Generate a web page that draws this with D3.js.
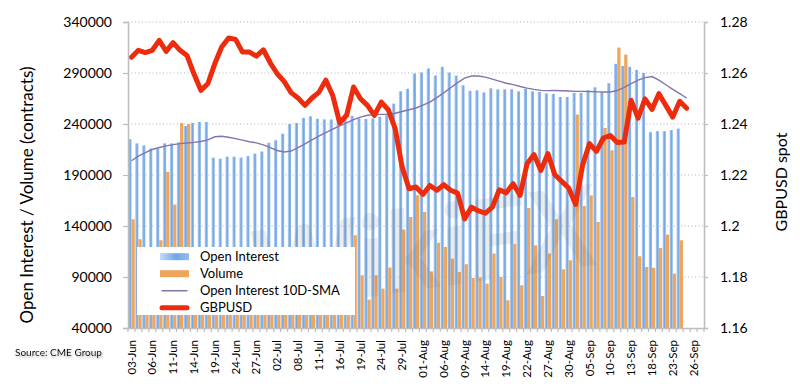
<!DOCTYPE html>
<html>
<head>
<meta charset="utf-8">
<script src="https://cdn.jsdelivr.net/npm/d3@7"></script>
<style>
  body { margin: 0; background: #fff; }
  svg text { font-family: Lato, "Open Sans", sans-serif; }
</style>
</head>
<body>
<div id="chart"></div>
<script>
const canvas = { w: 800, h: 387 };
const plot = { left: 128, right: 704, top: 22, bottom: 328 };

// trading days, 03-Jun .. 27-Sep
const dates = [
  "03-Jun","04-Jun","05-Jun","06-Jun","07-Jun","10-Jun","11-Jun","12-Jun","13-Jun","14-Jun",
  "17-Jun","18-Jun","19-Jun","20-Jun","21-Jun","24-Jun","25-Jun","26-Jun","27-Jun","28-Jun",
  "01-Jul","02-Jul","03-Jul","05-Jul","08-Jul","09-Jul","10-Jul","11-Jul","12-Jul","15-Jul",
  "16-Jul","17-Jul","18-Jul","19-Jul","22-Jul","23-Jul","24-Jul","25-Jul","26-Jul","29-Jul",
  "30-Jul","31-Jul","01-Aug","02-Aug","05-Aug","06-Aug","07-Aug","08-Aug","09-Aug","12-Aug",
  "13-Aug","14-Aug","15-Aug","16-Aug","19-Aug","20-Aug","21-Aug","22-Aug","23-Aug","26-Aug",
  "27-Aug","28-Aug","29-Aug","30-Aug","03-Sep","04-Sep","05-Sep","06-Sep","09-Sep","10-Sep",
  "11-Sep","12-Sep","13-Sep","16-Sep","17-Sep","18-Sep","19-Sep","20-Sep","23-Sep","24-Sep",
  "25-Sep","26-Sep","27-Sep"
];
const shownDates = dates.filter((d, i) => i % 3 === 0);

const openInterest = [
  225000,221000,219000,216000,216000,221000,221000,222000,238000,241000,
  242000,242000,207000,206000,208000,208000,207000,208500,211000,213000,
  221500,224000,230500,240000,241000,246000,247500,245000,244500,244500,
  246500,249000,248000,245500,245000,245500,247000,248500,260000,272000,
  274500,289500,290500,294500,287500,296000,290500,287500,278000,272500,
  273000,271000,275000,274000,274000,274000,272000,274500,272000,271500,
  270000,269500,266500,266500,270500,270500,273000,276000,271000,280000,
  299000,297000,296000,293000,290000,232000,233000,233000,234000,235500
];

const volume = [
  146600,127000,98000,88000,126000,193000,161000,241000,240000,105000,
  95000,80000,70000,85000,78000,92000,100000,75000,88000,95000,
  82000,70000,90000,104000,86000,77000,95000,110000,88000,72000,
  98000,112000,130900,91700,67800,91700,78600,99200,78600,136400,
  148800,170100,153700,95500,123500,119400,108000,95000,102500,89000,
  89500,83500,113000,90000,67200,122700,81900,157600,121000,71400,
  113000,146600,97500,106400,249200,159600,170100,143900,236100,214200,
  314900,308000,168400,110300,99800,99000,118400,131600,93300,126000
];

const oiSma = [
  204000,208500,212000,215000,217000,218500,219800,220800,221400,222000,
  222800,224500,227500,228000,227000,225700,224200,222600,221500,219500,
  216800,214000,212500,213500,216800,220500,224500,228000,231500,235000,
  238200,241200,244300,246800,248600,249200,249400,249600,250500,252300,
  254000,255700,258500,261500,265800,270500,275500,280500,285000,287000,
  287000,286000,284000,282000,280000,278600,276800,275200,274000,273000,
  272700,272800,272600,272300,272000,272000,271800,271500,271400,271400,
  272800,276000,279500,283000,285500,286500,283000,278500,274000,269700,
  265500
];

const gbpusd = [
  1.2662,1.2689,1.2680,1.2689,1.2728,1.2685,1.2719,1.2689,1.2669,1.2597,
  1.2532,1.2558,1.2636,1.2702,1.2737,1.2732,1.2682,1.2682,1.2666,1.2691,
  1.2640,1.2597,1.2567,1.2523,1.2502,1.2473,1.2502,1.2524,1.2572,1.2512,
  1.2405,1.2434,1.2545,1.2499,1.2473,1.2434,1.2486,1.2456,1.2382,1.2231,
  1.2146,1.2153,1.2124,1.2159,1.2140,1.2162,1.2140,1.2129,1.2028,1.2074,
  1.2059,1.2050,1.2074,1.2142,1.2130,1.2166,1.2120,1.2244,1.2280,1.2218,
  1.2284,1.2201,1.2175,1.2149,1.2085,1.2238,1.2323,1.2293,1.2345,1.2355,
  1.2327,1.2329,1.2493,1.2423,1.2499,1.2457,1.2519,1.2473,1.2427,1.2489,
  1.2462
];

const leftTicks = [40000, 90000, 140000, 190000, 240000, 290000, 340000];
const rightTicks = [1.16, 1.18, 1.2, 1.22, 1.24, 1.26, 1.28];

const legendItems = [
  { name: "Open Interest", kind: "oi" },
  { name: "Volume", kind: "vol" },
  { name: "Open Interest 10D-SMA", kind: "sma" },
  { name: "GBPUSD", kind: "fx" }
];

const svg = d3.select("#chart")
  .append("svg")
  .attr("width", canvas.w)
  .attr("height", canvas.h)
  .attr("viewBox", `0 0 ${canvas.w} ${canvas.h}`);

const defs = svg.append("defs");
const grad = defs.append("linearGradient")
  .attr("id", "oiGrad")
  .attr("x1", "0").attr("x2", "1").attr("y1", "0").attr("y2", "0");
grad.append("stop").attr("offset", "0%").attr("stop-color", "#c2daf6");
grad.append("stop").attr("offset", "55%").attr("stop-color", "#72a6e4");
grad.append("stop").attr("offset", "100%").attr("stop-color", "#94bcec");

const shadow = defs.append("filter").attr("id", "txtShadow");
shadow.append("feDropShadow")
  .attr("dx", 1).attr("dy", 1.5).attr("stdDeviation", 1.2)
  .attr("flood-color", "#777").attr("flood-opacity", 0.6);

const x = d3.scaleBand().domain(dates).range([plot.left, plot.right]).padding(0);
const yL = d3.scaleLinear().domain([40000, 340000]).range([plot.bottom, plot.top]);
const yR = d3.scaleLinear().domain([1.16, 1.28]).range([plot.bottom, plot.top]);
const bw = x.bandwidth();
const cx = i => x(dates[i]) + bw / 2;

// dotted gridlines
svg.append("g")
  .selectAll("line")
  .data(leftTicks.slice(1))
  .enter()
  .append("line")
  .attr("x1", plot.left).attr("x2", plot.right)
  .attr("y1", d => yL(d)).attr("y2", d => yL(d))
  .attr("stroke", "#b5b5b5")
  .attr("stroke-width", 1)
  .attr("stroke-dasharray", "1,2.5");

// bars
svg.append("g")
  .selectAll("rect")
  .data(openInterest)
  .enter()
  .append("rect")
  .attr("x", (d, i) => x(dates[i]) + 0.2)
  .attr("width", bw / 2 - 0.2)
  .attr("y", d => yL(d))
  .attr("height", d => plot.bottom - yL(d))
  .attr("fill", "url(#oiGrad)");

svg.append("g")
  .selectAll("rect")
  .data(volume)
  .enter()
  .append("rect")
  .attr("x", (d, i) => cx(i))
  .attr("width", bw / 2 - 0.2)
  .attr("y", d => yL(d))
  .attr("height", d => plot.bottom - yL(d))
  .attr("fill", "#eea55c");

// watermark over the bars, very faint
svg.append("text")
  .attr("x", 248).attr("y", 292)
  .attr("transform", "rotate(-8 400 250)")
  .attr("font-size", 112)
  .attr("font-weight", "bold")
  .attr("font-style", "italic")
  .attr("fill", "#777")
  .attr("opacity", 0.13)
  .text("WikiFX");

// lines
const smaLine = d3.line().x((d, i) => cx(i)).y(d => yL(d));
svg.append("path")
  .attr("d", smaLine(oiSma))
  .attr("fill", "none")
  .attr("stroke", "#8474ad")
  .attr("stroke-width", 1.4);

const fxLine = d3.line().x((d, i) => cx(i)).y(d => yR(d));
svg.append("path")
  .attr("d", fxLine(gbpusd))
  .attr("fill", "none")
  .attr("stroke", "#ec2c0c")
  .attr("stroke-width", 5)
  .attr("stroke-linejoin", "round")
  .attr("stroke-linecap", "round");

// legend
const legend = svg.append("g").attr("transform", "translate(137,247)");
legend.append("rect")
  .attr("width", 218).attr("height", 68)
  .attr("fill", "#fff");
const rows = legend.selectAll("g")
  .data(legendItems)
  .enter()
  .append("g")
  .attr("transform", (d, i) => `translate(0,${9.7 + i * 17})`);
rows.each(function (d) {
  const r = d3.select(this);
  if (d.kind === "oi" || d.kind === "vol") {
    r.append("rect")
      .attr("x", 23).attr("y", -3.5).attr("width", 29).attr("height", 7)
      .attr("fill", d.kind === "oi" ? "url(#oiGrad)" : "#eea55c");
  } else {
    r.append("line")
      .attr("x1", 25).attr("x2", 50).attr("y1", 0).attr("y2", 0)
      .attr("stroke", d.kind === "sma" ? "#8474ad" : "#ec2c0c")
      .attr("stroke-width", d.kind === "sma" ? 1.4 : 5)
      .attr("stroke-linecap", "round");
  }
  r.append("text")
    .attr("x", 63).attr("y", 0).attr("dy", "0.35em")
    .attr("font-size", 13)
    .attr("fill", "#000")
    .text(d.name);
});

// axes
const axisLeft = d3.axisLeft(yL)
  .tickValues(leftTicks)
  .tickSize(5)
  .tickPadding(11)
  .tickFormat(d3.format("d"));
const gl = svg.append("g").attr("transform", `translate(${plot.left},0)`).call(axisLeft);

const axisRight = d3.axisRight(yR)
  .tickValues(rightTicks)
  .tickSize(4)
  .tickPadding(12)
  .tickFormat(d => String(+d.toFixed(2)));
const gr = svg.append("g").attr("transform", `translate(${plot.right},0)`).call(axisRight);

const axisBottom = d3.axisBottom(x)
  .tickValues(shownDates)
  .tickSize(0)
  .tickPadding(0);
const gb = svg.append("g").attr("transform", `translate(0,${plot.bottom})`).call(axisBottom);
gb.selectAll("text")
  .attr("transform", "rotate(-90)")
  .attr("text-anchor", "end")
  .attr("x", -12)
  .attr("y", 0)
  .attr("dy", "0.35em")
  .attr("font-size", 11.5);

[gl, gr, gb].forEach(g => {
  g.select(".domain").attr("stroke", "#bdbdbd").attr("stroke-width", 1.5);
  g.selectAll(".tick line").attr("stroke", "#bdbdbd").attr("stroke-width", 1.2);
  g.selectAll("text").attr("fill", "#000").attr("font-family", "Lato, 'Open Sans', sans-serif");
});
gl.selectAll(".tick text").attr("font-size", 14);
gr.selectAll(".tick text").attr("font-size", 14);

// category tick marks on the date axis
svg.append("g")
  .selectAll("line")
  .data(dates.map((d, i) => i).concat([dates.length]))
  .enter()
  .append("line")
  .attr("x1", i => i < dates.length ? x(dates[i]) : plot.right)
  .attr("x2", i => i < dates.length ? x(dates[i]) : plot.right)
  .attr("y1", plot.bottom).attr("y2", plot.bottom + 4)
  .attr("stroke", "#bdbdbd")
  .attr("stroke-width", 1.2);

// axis titles
svg.append("text")
  .attr("transform", `translate(33,195) rotate(-90)`)
  .attr("text-anchor", "middle")
  .attr("font-size", 17)
  .attr("fill", "#000")
  .text("Open Interest / Volume (contracts)");

svg.append("text")
  .attr("transform", `translate(787,182) rotate(-90)`)
  .attr("text-anchor", "middle")
  .attr("font-size", 16)
  .attr("fill", "#000")
  .text("GBPUSD spot");

svg.append("text")
  .attr("x", 15).attr("y", 356)
  .attr("font-size", 10)
  .attr("fill", "#000")
  .attr("filter", "url(#txtShadow)")
  .text("Source: CME Group");
</script>
</body>
</html>
